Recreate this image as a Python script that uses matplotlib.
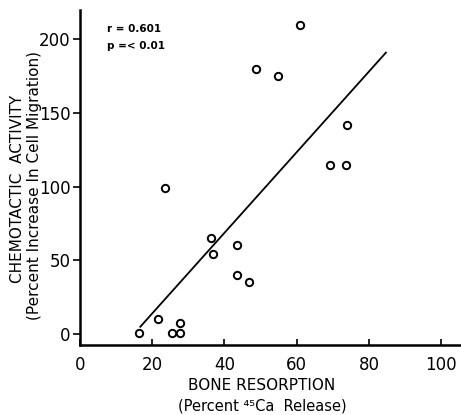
import matplotlib
matplotlib.use("Agg")
import matplotlib.pyplot as plt

# Data
bone_resorption = [16.4, 21.6, 25.6, 27.8, 27.8, 36.4, 36.7, 43.6, 43.6, 46.7,
                   23.6, 60.8, 48.6, 54.7, 73.9, 69.2, 73.6]
chemotactic = [0.7, 10, 0.7, 7.5, 0.7, 65, 54, 60.5, 40, 35,
               99, 209.5, 179.6, 175, 142, 115, 115]
line_x = [16.7, 84.7]
line_y = [4.8, 191]
x_ticks = [0, 20, 40, 60, 80, 100]
y_ticks = [0, 50, 100, 150, 200]

plt.rcParams['font.family'] = ['DejaVu Sans']
fig = plt.figure(figsize=(4.61, 4.15), dpi=100)
ax = fig.add_axes([0.1735, 0.169, 0.8265, 0.807])

ax.scatter(bone_resorption, chemotactic, s=28, facecolors='white',
           edgecolors='black', linewidths=1.4, zorder=3, clip_on=False)
ax.plot(line_x, line_y, color='black', lw=1.3)

ax.set_xlim(0, 105.5)
ax.set_ylim(-7.5, 220)
ax.set_xticks(x_ticks)
ax.set_yticks(y_ticks)
for s in ['top', 'right']:
    ax.spines[s].set_visible(False)
for s in ['left', 'bottom']:
    ax.spines[s].set_linewidth(1.8)
ax.tick_params(axis='x', direction='in', length=4, width=1.2, labelsize=12, pad=8)
ax.tick_params(axis='y', direction='out', length=5, width=1.2, labelsize=12, pad=2)

ax.text(7.5, 207, "r = 0.601", fontsize=7.5, fontweight='bold', va='center')
ax.text(7.5, 195.5, "p =< 0.01", fontsize=7.5, fontweight='bold', va='center')

fig.text(0.568, 0.072, "BONE RESORPTION", ha='center', va='center', fontsize=11)
fig.text(0.568, 0.022, "(Percent \u2074\u2075Ca  Release)", ha='center', va='center',
         fontsize=10.5)
fig.text(0.037, 0.545, "CHEMOTACTIC  ACTIVITY", rotation=90, ha='center',
         va='center', fontsize=11)
fig.text(0.074, 0.553, "(Percent Increase In Cell Migration)", rotation=90,
         ha='center', va='center', fontsize=11)

fig.savefig("out.png", dpi=100)
